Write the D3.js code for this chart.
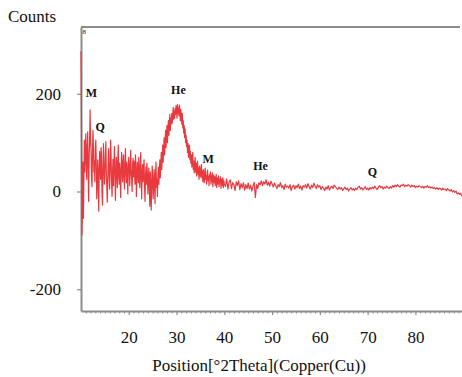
<!DOCTYPE html>
<html>
<head>
<meta charset="utf-8">
<script src="https://cdn.jsdelivr.net/npm/d3@7"></script>
<style>
  html, body { margin: 0; padding: 0; background: #fff; }
  svg { display: block; }
  svg text { font-family: "Times New Roman", Times, "Liberation Serif", "DejaVu Serif", serif; fill: #111; }
</style>
</head>
<body>
<svg id="chart" width="462" height="377"></svg>
<script>
// Diffraction scan, part 1: 10.0–40.0 °2θ, step 0.1
const scanStartA = 10.0, scanStepA = 0.1;
const countsA = [
  287, 140, -89, -30, 60, -55, 20, 105, 40, 78,
  118, 60, 25, 92, 122, 48, -20, 70, 100, 167,
  110, 85, 30, 10, 74, 125, 96, 40, 62, 20,
  88, 105, 55, -15, 8, 65, 40, -40, 30, 82,
  60, 25, 90, 70, -5, -28, 45, 98, 52, 15,
  35, 78, 102, 40, 10, -22, 20, 60, 88, 30,
  5, 48, 105, 72, 20, -10, 38, 66, 12, 55,
  92, 45, -18, 25, 70, 50, 8, 62, 95, 30,
  15, 58, 40, -12, 35, 80, 62, 20, 45, 75,
  28, 5, 55, 88, 40, 18, 60, 35, -5, 48,
  70, 52, 12, 38, 84, 45, 25, 0, 55, 68,
  30, 62, 40, 15, 75, 50, -10, 28, 60, 42,
  18, 70, 35, 8, 48, 80, 25, -15, 40, 55,
  20, 45, 65, 10, -20, 30, 50, 15, 58, 35,
  -5, 25, 48, 10, -30, 40, 20, -38, 12, 52,
  30, -15, 5, 45, 18, -25, 35, 60, 8, 25,
  -10, 30, 50, 15, 42, 65, 28, 55, 80, 45,
  70, 95, 60, 88, 110, 75, 102, 125, 90, 118,
  135, 100, 128, 145, 115, 140, 158, 125, 150, 138,
  160, 140, 155, 172, 148, 165, 150, 170, 158, 176,
  165, 150, 178, 160, 170, 155, 177, 162, 145, 168,
  155, 138, 160, 130, 145, 120, 135, 110, 128, 100,
  115, 92, 105, 80, 98, 70, 88, 95, 65, 82,
  58, 75, 50, 68, 80, 45, 62, 38, 55, 70,
  40, 58, 32, 50, 62, 35, 48, 25, 52, 38,
  30, 48, 55, 28, 42, 20, 45, 35, 18, 40,
  48, 25, 32, 15, 38, 44, 22, 30, 12, 35,
  28, 40, 15, 32, 20, 38, 10, 26, 34, 18,
  30, 12, 25, 35, 8, 22, 28, 15, 32, 10,
  24, 18, 30, 6, 20, 26, 12, 28, 8, 22,
  16
];

// Diffraction scan, part 2: 40.25–89.75 °2θ, step 0.25
const scanStartB = 40.25, scanStepB = 0.25;
const countsB = [
  10, 26, 5, 20,    24, 6, 18, 14,   2, 20, 12, 22,   4, 16, 8, 18,
  3, 14, 6, 17,     5, 13, 1, 11,    19, -12, 14, 6,  18, 14, 22, 12,
  20, 15, 24, 13,   19, 11, 21, 16,  9, 17, 12, 6,    14, 10, 18, 8,
  12, 4, 15, 9,     11, 7, 14, 2,    10, 13, 5, 12,   8, 15, 6, 11,
  3, 12, 9, 14,     7, 16, 10, 5,    13, 8, 17, 11,   6, 14, 9, 12,
  4, 10, 7, 2,      9, 5, 12, 3,     8, 11, 6, 13,    10, 7, 4, 9,
  5, 8, 2, 6,       9, 4, 7, 1,      5, 8, 3, 6,      2, 7, 4, 9,
  11, 5, 8, 3,      6, 10, 4, 7,     3, 8, 5, 9,      6, 11, 7, 4,
  9, 12, 8, 10,     5, 9, 7, 11,     8, 6, 10, 7,     12, 9, 13, 10,
  14, 11, 9, 13,    12, 15, 10, 13,  11, 14, 12, 9,   13, 10, 12, 8,
  11, 9, 12, 10,    8, 11, 7, 10,    9, 12, 8, 10,    7, 9, 6, 8,
  5, 8, 4, 7,       6, 3, 7, 4,      5, 2, 6, 3,      1, 4, -1, 2,
  -2, 1, -5, -3,    -6, -4, -9
];

// Phase markers: label, 2θ position, count level of the label baseline
const peakLabels = ["M", "Q", "He", "M", "He", "Q"];
const peakTheta  = [12.2, 14.0, 30.4, 36.6, 47.6, 71.0];
const peakLevel  = [193, 124, 200, 58, 44, 32];

const xTickValues = [20, 30, 40, 50, 60, 70, 80];
const yTickValues = [200, 0, -200];
const xDomain = [10, 89.75];
const yDomain = [-244.5, 336.6];

const points = [
  ...countsA.map((c, i) => [scanStartA + i * scanStepA, c]),
  ...countsB.map((c, i) => [scanStartB + i * scanStepB, c])
];

const svg = d3.select("#chart");
const plot = { left: 81, right: 462, top: 27, bottom: 311 };
const serif = '"Times New Roman", Times, "Liberation Serif", "DejaVu Serif", serif';

const x = d3.scaleLinear().domain(xDomain).range([plot.left, plot.right]);
const y = d3.scaleLinear().domain(yDomain).range([plot.bottom, plot.top]);

const axisColor = "#8c8c8c";

// frame: top border
svg.append("line")
  .attr("x1", plot.left).attr("x2", 460)
  .attr("y1", plot.top).attr("y2", plot.top)
  .attr("stroke", axisColor).attr("stroke-width", 2);

// minor ticks every degree
const minorTicks = d3.range(11, 90).filter(d => !xTickValues.includes(d));
const xMinor = svg.append("g")
  .attr("transform", `translate(0,${plot.bottom})`)
  .call(d3.axisBottom(x).tickValues(minorTicks).tickSize(2.5).tickFormat(""));
xMinor.select(".domain").remove();
xMinor.selectAll(".tick line").attr("stroke", axisColor).attr("stroke-width", 1);

// major x ticks and labels
const xAxis = svg.append("g")
  .attr("transform", `translate(0,${plot.bottom})`)
  .attr("font-family", serif)
  .call(d3.axisBottom(x).tickValues(xTickValues).tickSize(4).tickSizeOuter(0)
    .tickPadding(16).tickFormat(d => String(d)));
xAxis.attr("font-family", serif);
xAxis.select(".domain").attr("stroke", axisColor).attr("stroke-width", 2);
xAxis.selectAll(".tick line").attr("stroke", axisColor).attr("stroke-width", 1.2);
xAxis.selectAll(".tick text")
  .style("font-family", serif)
  .style("font-size", "17px").attr("fill", "#111");

// y axis
const yAxis = svg.append("g")
  .attr("transform", `translate(${plot.left},0)`)
  .call(d3.axisLeft(y).tickValues(yTickValues).tickSize(4).tickSizeOuter(0)
    .tickPadding(16).tickFormat(d => String(d)));
yAxis.attr("font-family", serif);
yAxis.select(".domain").attr("stroke", axisColor).attr("stroke-width", 2);
yAxis.selectAll(".tick line").attr("stroke", axisColor).attr("stroke-width", 1.2);
yAxis.selectAll(".tick text")
  .style("font-family", serif)
  .style("font-size", "17px").attr("fill", "#111");

// the scan trace
const line = d3.line().x(d => x(d[0])).y(d => y(d[1]));
svg.append("path")
  .datum(points)
  .attr("d", line)
  .attr("fill", "none")
  .attr("stroke", "#e8393e")
  .attr("stroke-width", 1.2)
  .attr("stroke-linejoin", "round");

// phase labels
svg.append("g").selectAll("text")
  .data(peakLabels.map((t, i) => ({ t, th: peakTheta[i], v: peakLevel[i] })))
  .join("text")
  .attr("x", d => x(d.th))
  .attr("y", d => y(d.v))
  .attr("text-anchor", "middle")
  .style("font-family", serif)
  .style("font-size", "12px")
  .style("font-weight", "bold")
  .text(d => d.t);

// small index mark in the plot corner
svg.append("text")
  .attr("x", plot.left + 1.5).attr("y", plot.top + 7)
  .style("font-family", serif)
  .style("font-size", "7px").attr("fill", "#999")
  .text("8");

// axis titles
svg.append("text")
  .attr("x", 8).attr("y", 22)
  .style("font-family", serif)
  .style("font-size", "17px")
  .text("Counts");

svg.append("text")
  .attr("x", 259).attr("y", 371)
  .attr("text-anchor", "middle")
  .style("font-family", serif)
  .style("font-size", "17px")
  .text("Position[°2Theta](Copper(Cu))");
</script>
</body>
</html>
